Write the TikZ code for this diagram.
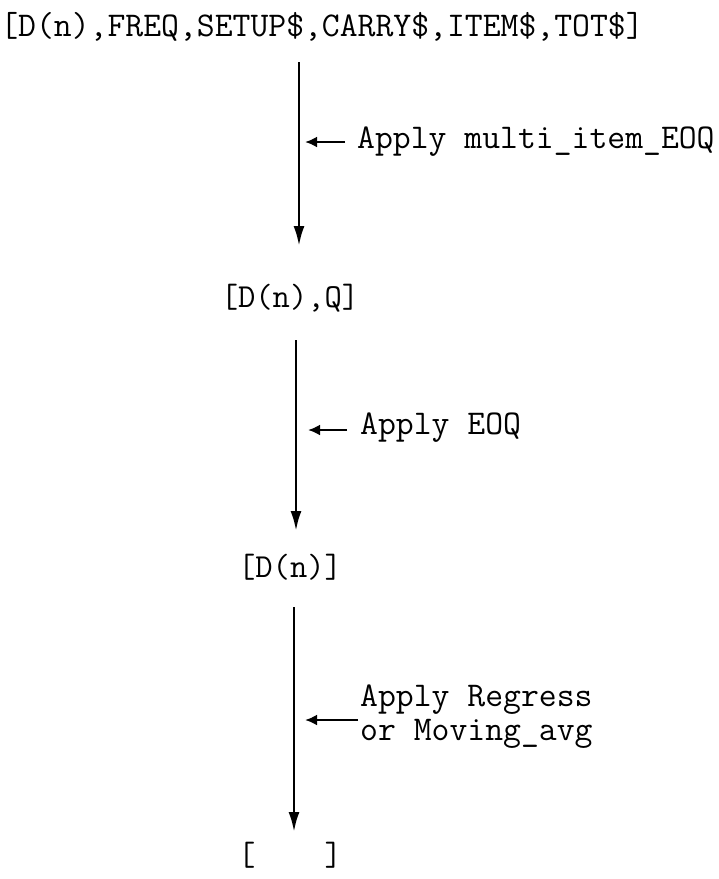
\documentclass[tikz,border=0pt]{standalone}
\usepackage{fontspec}
\usetikzlibrary{arrows.meta,calc}
\begin{document}
\begin{tikzpicture}[x=1pt,y=-1pt,
  term/.style={font=\ttfamily\fontsize{34.7}{36}\selectfont, inner sep=0pt, anchor=center},
  small term/.style={term, font=\ttfamily\fontsize{33.6}{36}\selectfont},
  note/.style={font=\ttfamily\fontsize{34.7}{34}\selectfont, inner sep=0pt, anchor=west, align=left},
  flow/.style={line width=2.7pt, -{Latex[length=20pt,width=11pt]}},
  hint/.style={line width=2.7pt, -{Latex[length=12pt,width=11pt]}}]
\useasboundingbox (0,0) rectangle (719,879);

% the data sets, from full to empty
\node[term] (top) at (322,27) {[D(n),FREQ,SETUP\$,CARRY\$,ITEM\$,TOT\$]};
\node[small term] (q) at (290,298) {[D(n),Q]};
\node[small term] (d) at (290,567) {[D(n)]};
\node[small term] (e) at (290,855) {[\phantom{D(n)}]};

% end points of the transformation arrows
\coordinate (s1) at (299,62);  \coordinate (t1) at (299,246);
\coordinate (s2) at (296,340); \coordinate (t2) at (296,531);
\coordinate (s3) at (294,607); \coordinate (t3) at (294,832);

\draw[flow] (s1) -- (t1);
\draw[flow] (s2) -- (t2);
\draw[flow] (s3) -- (t3);

% the operators that are applied
\node[note] (l1) at (357,142) {Apply multi\_item\_EOQ};
\node[note] (l2) at (360,428) {Apply EOQ};
\node[note] (l3) at (360,717) {Apply Regress\\or Moving\_avg};

\draw[hint] ($(l1.west)+(-12,0)$) -- ($(s1)!(l1.west)!(t1)+(6,0)$);
\draw[hint] ($(l2.west)+(-13,2)$) -- ($(s2)!($(l2.west)+(0,2)$)!(t2)+(12,0)$);
\draw[hint] ($(l3.west)+(-2,3)$) -- ($(s3)!($(l3.west)+(0,3)$)!(t3)+(11,0)$);
\end{tikzpicture}
\end{document}
